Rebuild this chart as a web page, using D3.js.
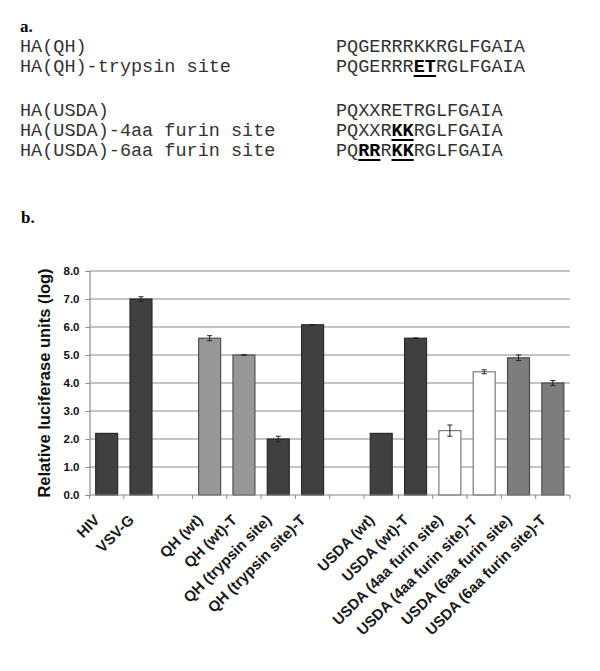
<!DOCTYPE html>
<html><head><meta charset="utf-8">
<script src="https://cdn.jsdelivr.net/npm/d3@7"></script>
<style>body{margin:0;background:#fff}svg{display:block}</style>
</head><body>
<script>
// ---- data ----
const seqNames = ["HA(QH)", "HA(QH)-trypsin site", "HA(USDA)", "HA(USDA)-4aa furin site", "HA(USDA)-6aa furin site"];
const seqCodes = ["PQGERRRKKRGLFGAIA", "PQGERRR[ET]RGLFGAIA", "PQXXRETRGLFGAIA", "PQXXR[KK]RGLFGAIA", "PQ[RR]R[KK]RGLFGAIA"];
const seqRows = [0, 1, 3.2, 4.2, 5.2];

const categories = ["HIV", "VSV-G", "", "QH (wt)", "QH (wt)-T", "QH (trypsin site)", "QH (trypsin site)-T", " ", "USDA (wt)", "USDA (wt)-T", "USDA (4aa furin site)", "USDA (4aa furin site)-T", "USDA (6aa furin site)", "USDA (6aa furin site)-T"];
const values = [2.2, 7.0, null, 5.6, 5.0, 2.0, 6.08, null, 2.2, 5.6, 2.3, 4.4, 4.9, 4.0];
const errors = [0, 0.08, null, 0.09, 0.01, 0.1, 0.01, null, 0, 0.01, 0.2, 0.07, 0.1, 0.09];
const groups = ["dark", "dark", null, "light", "light", "dark", "dark", null, "dark", "dark", "white", "white", "mid", "mid"];
const yTicks = [0, 1, 2, 3, 4, 5, 6, 7, 8];

const W = 600, H = 671;
const svg = d3.select("body").append("svg").attr("width", W).attr("height", H);

// ---- panel a ----
svg.append("text").attr("x", 20).attr("y", 31.5).text("a.")
  .attr("font-family", "Liberation Serif, Times New Roman, serif").attr("font-weight", "bold").attr("font-size", 17);
const fs = 18.5, cw = fs * 0.6;
const rowY = d3.scaleLinear().domain([0, 1]).range([51.5, 71.5]);
const gA = svg.append("g").attr("font-family", "Liberation Mono, Courier New, monospace").attr("font-size", fs).attr("fill", "#333");
seqNames.forEach((n, i) => {
  gA.append("text").attr("x", 20).attr("y", rowY(seqRows[i])).text(n);
});
seqCodes.forEach((code, i) => {
  const y = rowY(seqRows[i]);
  const t = gA.append("text").attr("x", 336).attr("y", y);
  const parts = code.split(/(\[[A-Z]+\])/).filter(s => s.length);
  let idx = 0;
  parts.forEach(p => {
    if (p.startsWith("[")) {
      const s = p.slice(1, -1);
      t.append("tspan").attr("font-weight", "bold").attr("fill", "#000").text(s);
      gA.append("line").attr("x1", 336 + idx * cw).attr("x2", 336 + (idx + s.length) * cw)
        .attr("y1", y + 4.5).attr("y2", y + 4.5).attr("stroke", "#000").attr("stroke-width", 2);
      idx += s.length;
    } else {
      t.append("tspan").text(p);
      idx += p.length;
    }
  });
});

// ---- panel b ----
svg.append("text").attr("x", 21).attr("y", 223).text("b.")
  .attr("font-family", "Liberation Serif, Times New Roman, serif").attr("font-weight", "bold").attr("font-size", 17);

const x0 = 89.5, x1 = 570, yB = 495, yT = 271;
const keys = categories.map((c, i) => i);
const x = d3.scaleBand().domain(keys).range([x0, x1]).paddingInner(0.36).paddingOuter(0.18);
const y = d3.scaleLinear().domain([0, 8]).range([yB, yT]);
const fill = {dark: "#404040", light: "#979797", white: "#ffffff", mid: "#7d7d7d"};
const stroke = {dark: "#2a2a2a", light: "#505050", white: "#7a7a7a", mid: "#4a4a4a"};

// gridlines
svg.append("g").selectAll("line").data(yTicks.filter(d => d > 0)).join("line")
  .attr("x1", x0).attr("x2", x1).attr("y1", d => y(d)).attr("y2", d => y(d))
  .attr("stroke", "#8a8a8a").attr("stroke-width", 1.2);

// y axis
const yAxis = d3.axisLeft(y).tickValues(yTicks).tickFormat(d3.format(".1f")).tickSize(4).tickPadding(6);
const gy = svg.append("g").attr("transform", `translate(${x0},0)`).call(yAxis);
gy.select(".domain").attr("stroke", "#8a8a8a").attr("stroke-width", 1.2);
gy.selectAll(".tick line").attr("stroke", "#8a8a8a");
gy.selectAll("text").attr("font-family", "Liberation Sans, Arial, sans-serif").attr("font-weight", "bold").attr("font-size", 11.5).attr("fill", "#111");

// bars
const bars = keys.filter(i => values[i] !== null);
svg.append("g").selectAll("rect").data(bars).join("rect")
  .attr("x", i => x(i)).attr("width", x.bandwidth())
  .attr("y", i => y(values[i])).attr("height", i => y(0) - y(values[i]))
  .attr("fill", i => fill[groups[i]]).attr("stroke", i => stroke[groups[i]]).attr("stroke-width", 1.2);

// error bars
const eg = svg.append("g").attr("stroke", "#222").attr("stroke-width", 1);
bars.filter(i => errors[i] > 0).forEach(i => {
  const cx = x(i) + x.bandwidth() / 2;
  const lo = y(values[i] - errors[i]), hi = y(values[i] + errors[i]);
  eg.append("line").attr("x1", cx).attr("x2", cx).attr("y1", lo).attr("y2", hi);
  eg.append("line").attr("x1", cx - 2.5).attr("x2", cx + 2.5).attr("y1", lo).attr("y2", lo);
  eg.append("line").attr("x1", cx - 2.5).attr("x2", cx + 2.5).attr("y1", hi).attr("y2", hi);
});

// x axis line and boundary ticks
svg.append("line").attr("x1", x0).attr("x2", x1).attr("y1", yB).attr("y2", yB).attr("stroke", "#8a8a8a").attr("stroke-width", 1.2);
const step = x.step();
const bounds = d3.range(categories.length + 1).map(k => x(0) - x.paddingInner() * step / 2 + k * step);
svg.append("g").selectAll("line").data(bounds).join("line")
  .attr("x1", d => d).attr("x2", d => d).attr("y1", yB).attr("y2", yB + 4).attr("stroke", "#8a8a8a");

// x labels
svg.append("g").selectAll("text").data(keys).join("text")
  .attr("transform", i => `translate(${x(i) + x.bandwidth() / 2 - 6},${yB + 26}) rotate(-45)`)
  .attr("text-anchor", "end")
  .attr("font-family", "Liberation Sans, Arial, sans-serif").attr("font-weight", "bold").attr("font-size", 15).attr("fill", "#1a1a1a")
  .text(i => categories[i].trim());

// y title
svg.append("text").attr("transform", `translate(50,${(yB + yT) / 2}) rotate(-90)`)
  .attr("text-anchor", "middle")
  .attr("font-family", "Liberation Sans, Arial, sans-serif").attr("font-weight", "bold").attr("font-size", 16.5).attr("fill", "#111")
  .text("Relative luciferase units (log)");
</script>
</body></html>
